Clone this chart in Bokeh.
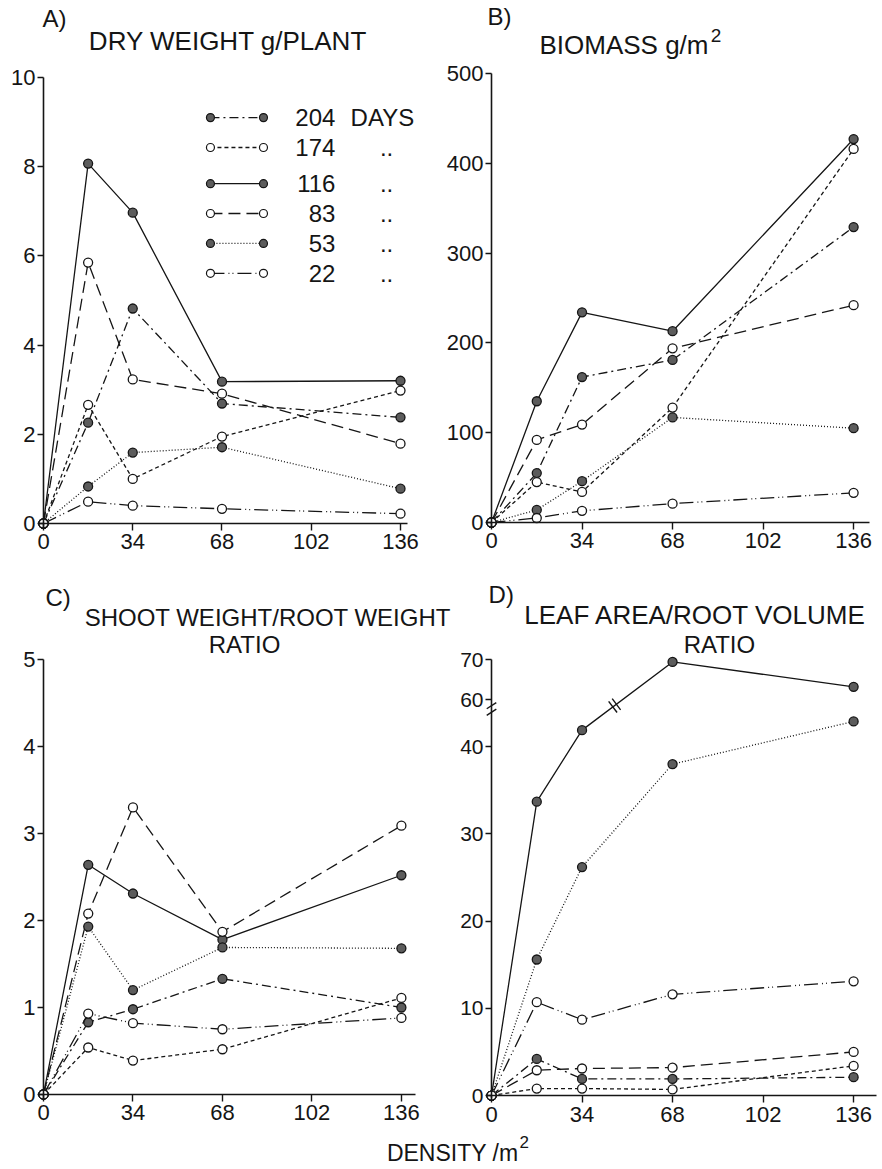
from bokeh.plotting import figure
from bokeh.layouts import column, row
from bokeh.models import FixedTicker, Label
from bokeh.embed import file_html
from bokeh.resources import INLINE

FONT = "Liberation Sans"
INK = "#151515"
GREY = "#5c5c5c"

# ---------------- data ----------------
density = [0, 17, 34, 68, 136]
x_ticks = [0, 34, 68, 102, 136]
ages = ["204", "174", "116", "83", "53", "22"]

# A) dry weight g/plant
dry_204 = [0, 2.26, 4.82, 2.69, 2.38]
dry_174 = [0, 2.66, 1.00, 1.95, 2.98]
dry_116 = [0, 8.07, 6.97, 3.18, 3.20]
dry_83 = [0, 5.85, 3.23, 2.91, 1.79]
dry_53 = [0, 0.83, 1.59, 1.71, 0.78]
dry_22 = [0, 0.49, 0.40, 0.33, 0.22]

# B) biomass g/m2
bio_204 = [0, 55, 162, 181, 329]
bio_174 = [0, 45, 34, 128, 416]
bio_116 = [0, 135, 234, 213, 427]
bio_83 = [0, 92, 109, 194, 242]
bio_53 = [0, 14, 46, 117, 105]
bio_22 = [0, 5, 13, 21, 33]

# C) shoot weight / root weight ratio
sr_204 = [0, 0.83, 0.98, 1.33, 1.00]
sr_174 = [0, 0.54, 0.39, 0.52, 1.11]
sr_116 = [0, 2.64, 2.31, 1.78, 2.52]
sr_83 = [0, 2.08, 3.30, 1.87, 3.09]
sr_53 = [0, 1.93, 1.20, 1.69, 1.68]
sr_22 = [0, 0.93, 0.82, 0.75, 0.88]

# D) leaf area / root volume ratio
la_204 = [0, 4.2, 1.9, 1.9, 2.1]
la_174 = [0, 0.8, 0.8, 0.7, 3.4]
la_116 = [0, 33.7, 41.9, 69.4, 63.2]
la_83 = [0, 2.9, 3.1, 3.2, 5.0]
la_53 = [0, 15.6, 26.2, 38.0, 42.9]
la_22 = [0, 10.7, 8.7, 11.6, 13.1]

y_ticks_a = [0, 2, 4, 6, 8, 10]
y_ticks_b = [0, 100, 200, 300, 400, 500]
y_ticks_c = [0, 1, 2, 3, 4, 5]
y_ticks_d = [0, 10, 20, 30, 40, 60, 70]

dash = {"204": "9 4 2 4", "174": "4 3", "116": "solid", "83": "12 6",
        "53": "1 2", "22": "14 4 1 3 1 4"}
filled = {"204": True, "174": False, "116": True, "83": False, "53": True, "22": False}


# broken axis of panel D: values up to 45 are linear, above the break compressed
def brk(v):
    return v if v <= 45 else 45.4 + (v - 60) * 0.46


def make(width, height, xr, yr, xb, yb):
    p = figure(width=width, height=height, x_range=xr, y_range=yr,
               output_backend="svg", toolbar_location=None, min_border=0)
    p.outline_line_color = None
    p.xgrid.visible = False
    p.ygrid.visible = False
    p.background_fill_color = "white"
    p.border_fill_color = "white"
    p.xaxis.fixed_location = 0
    p.yaxis.fixed_location = 0
    p.xaxis.bounds = xb
    p.yaxis.bounds = yb
    for ax in (p.xaxis, p.yaxis):
        ax.axis_line_color = INK
        ax.axis_line_width = 1.6
        ax.major_tick_line_color = INK
        ax.major_tick_line_width = 1.4
        ax.major_tick_in = 0
        ax.minor_tick_line_color = None
        ax.major_label_text_font = FONT
        ax.major_label_text_font_size = "22px"
        ax.major_label_text_color = INK
    p.xaxis.major_tick_out = 7
    p.xaxis.major_label_standoff = 4
    p.yaxis.major_tick_out = 6
    p.yaxis.major_label_standoff = 2
    p.xaxis.ticker = FixedTicker(ticks=x_ticks)
    return p


def series(p, ys, age, size=9):
    p.line(density, ys, line_color=INK, line_width=1.3, line_dash=dash[age])
    p.scatter(density, ys, marker="circle", size=size,
              fill_color=GREY if filled[age] else "white",
              line_color=INK, line_width=1.3)


def text(p, x, y, s, size="24px", align="left"):
    p.add_layout(Label(x=x, y=y, text=s, text_font=FONT, text_font_size=size,
                       text_color=INK, text_align=align, text_baseline="middle"))


# ---------------- panel A ----------------
pA = make(441, 580, (-16.38, 151.62), (-1.278, 11.726), (-1.5, 138.7), (-0.1, 10))
pA.yaxis.ticker = FixedTicker(ticks=y_ticks_a)
for age, ys in zip(ages, [dry_204, dry_174, dry_116, dry_83, dry_53, dry_22]):
    series(pA, ys, age)
text(pA, -0.4, 11.32, "A)")
text(pA, 70.3, 10.81, "DRY WEIGHT g/PLANT", size="26px", align="center")
# legend
leg_y = [9.10, 8.43, 7.62, 6.95, 6.28, 5.61]
for age, ly in zip(ages, leg_y):
    pA.line([63.6, 83.8], [ly, ly], line_color=INK, line_width=1.3, line_dash=dash[age])
    pA.scatter([63.6, 83.8], [ly, ly], marker="circle", size=8,
               fill_color=GREY if filled[age] else "white", line_color=INK, line_width=1.2)
    text(pA, 111.2, ly, age, align="right")
    if age == "204":
        text(pA, 117, ly, "DAYS")
    else:
        text(pA, 130.7, ly, "..", align="center")

# ---------------- panel B ----------------
pB = make(439, 580, (-18.78, 146.1), (-64.6, 581.3), (-1.5, 142), (-5, 500))
pB.yaxis.ticker = FixedTicker(ticks=y_ticks_b)
for age, ys in zip(ages, [bio_204, bio_174, bio_116, bio_83, bio_53, bio_22]):
    series(pB, ys, age)
text(pB, -1.5, 563.5, "B)")
text(pB, 81.5, 532.3, "BIOMASS g/m", size="26px", align="right")
text(pB, 82.3, 542.3, "2", size="19px")

# ---------------- panel C ----------------
pC = make(458, 550, (-16.34, 157.7), (-0.414, 5.908), (-1.5, 141.5), (-0.05, 5))
pC.yaxis.ticker = FixedTicker(ticks=y_ticks_c)
for age, ys in zip(ages, [sr_204, sr_174, sr_116, sr_83, sr_53, sr_22]):
    series(pC, ys, age)
text(pC, 0.76, 5.707, "C)")
text(pC, 85.3, 5.477, "SHOOT WEIGHT/ROOT WEIGHT", align="center")
text(pC, 76.4, 5.172, "RATIO", align="center")

# ---------------- panel D ----------------
pD = make(422, 550, (-12.4, 146.1), (-4.01, 59.06), (-1.5, 144.5), (-0.3, 50))
pD.yaxis.ticker = FixedTicker(ticks=[brk(t) for t in y_ticks_d])
pD.yaxis.major_label_overrides = {brk(t): str(t) for t in y_ticks_d}
pD.yaxis.major_label_text_font_size = "21px"
for age, ys in zip(ages, [la_204, la_174, la_116, la_83, la_53, la_22]):
    series(pD, [brk(v) for v in ys], age)
text(pD, -1.1, 57.45, "D)")
text(pD, 76.6, 55.16, "LEAF AREA/ROOT VOLUME", size="26px", align="center")
text(pD, 85.6, 51.72, "RATIO", align="center")

# break marks (pixel scales of panel D: px per density unit, px per ratio unit)
SX, SY = 2.662, 8.72
ax0, ay0 = density[2] * SX, brk(la_116[2]) * SY
ax1, ay1 = density[3] * SX, brk(la_116[3]) * SY
L = ((ax1 - ax0) ** 2 + (ay1 - ay0) ** 2) ** 0.5
ux, uy = (ax1 - ax0) / L, (ay1 - ay0) / L
cx, cy = ax0 + 0.36 * (ax1 - ax0), ay0 + 0.36 * (ay1 - ay0)
bx0, by0, bx1, by1 = [], [], [], []
for off in (-2.2, 2.2):
    mx, my = cx + off * ux, cy + off * uy
    bx0.append((mx - 7 * uy) / SX); by0.append((my + 7 * ux) / SY)
    bx1.append((mx + 7 * uy) / SX); by1.append((my - 7 * ux) / SY)
for c in (43.95, 44.7):
    bx0.append(-1.8); by0.append(c - 0.35)
    bx1.append(1.8); by1.append(c + 0.35)
pD.segment(bx0, by0, bx1, by1, line_color=INK, line_width=1.4)

# ---------------- shared x label ----------------
pX = figure(width=880, height=36, x_range=(0, 880), y_range=(0, 36),
            output_backend="svg", toolbar_location=None,
            x_axis_location=None, y_axis_location=None, min_border=0)
pX.outline_line_color = None
pX.xgrid.visible = False
pX.ygrid.visible = False
text(pX, 518, 14, "DENSITY /m", size="23px", align="right")
text(pX, 519, 25, "2", size="17px")

layout = column(row(pA, pB), row(pC, pD), pX)
open("out.html", "w").write(file_html(layout, INLINE))
